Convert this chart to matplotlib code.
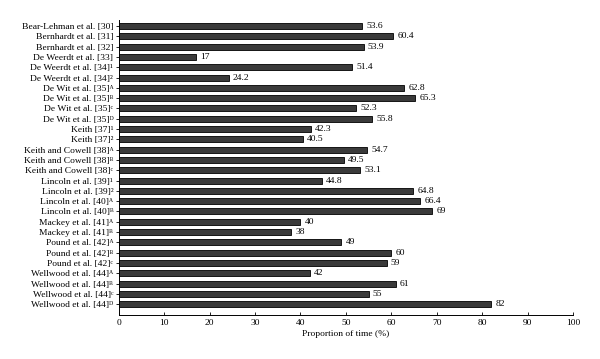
import matplotlib
matplotlib.use("Agg")
import matplotlib.pyplot as plt

plt.rcParams['font.family'] = ['Liberation Serif', 'DejaVu Serif', 'DejaVu Sans']

labels = [
    "Bear-Lehman et al. [30]", "Bernhardt et al. [31]", "Bernhardt et al. [32]",
    "De Weerdt et al. [33]", "De Weerdt et al. [34]\u00b9", "De Weerdt et al. [34]\u00b2",
    "De Wit et al. [35]\u1d2c", "De Wit et al. [35]\u1d2e",
    "De Wit et al. [35]\u1d9c", "De Wit et al. [35]\u1d30",
    "Keith [37]\u00b9", "Keith [37]\u00b2",
    "Keith and Cowell [38]\u1d2c", "Keith and Cowell [38]\u1d2e",
    "Keith and Cowell [38]\u1d9c",
    "Lincoln et al. [39]\u00b9", "Lincoln et al. [39]\u00b2",
    "Lincoln et al. [40]\u1d2c", "Lincoln et al. [40]\u1d2e",
    "Mackey et al. [41]\u1d2c", "Mackey et al. [41]\u1d2e",
    "Pound et al. [42]\u1d2c", "Pound et al. [42]\u1d2e",
    "Pound et al. [42]\u1d9c",
    "Wellwood et al. [44]\u1d2c", "Wellwood et al. [44]\u1d2e",
    "Wellwood et al. [44]\u1d9c", "Wellwood et al. [44]\u1d30",
]
values = [53.6, 60.4, 53.9, 17, 51.4, 24.2, 62.8, 65.3, 52.3, 55.8, 42.3, 40.5,
          54.7, 49.5, 53.1, 44.8, 64.8, 66.4, 69, 40, 38, 49, 60, 59, 42, 61, 55, 82]
value_labels = ["53.6", "60.4", "53.9", "17", "51.4", "24.2", "62.8", "65.3", "52.3",
                "55.8", "42.3", "40.5", "54.7", "49.5", "53.1", "44.8", "64.8", "66.4",
                "69", "40", "38", "49", "60", "59", "42", "61", "55", "82"]
xticks = list(range(0, 101, 10))

fig = plt.figure(figsize=(6.0, 3.59), dpi=100)
ax = fig.add_axes([0.198, 0.1226, 0.757, 0.822])
pos = list(range(len(values)))
ax.barh(pos, values, height=0.58, color='#3a3a3a', edgecolor='black', linewidth=0.6)
for p, v, t in zip(pos, values, value_labels):
    ax.text(v + 0.9, p, t, va='center', ha='left', fontsize=6.8)

ax.set_yticks(pos)
ax.set_yticklabels(labels, fontsize=6.8)
ax.set_ylim(28.05, -0.6)
ax.set_xlim(0, 100)
ax.set_xticks(xticks)
ax.set_xticklabels([str(x) for x in xticks], fontsize=6.8)
ax.set_xlabel("Proportion of time (%)", fontsize=6.8, labelpad=2)
for s in ['top', 'right']:
    ax.spines[s].set_visible(False)
for s in ['left', 'bottom']:
    ax.spines[s].set_linewidth(0.7)
ax.tick_params(axis='x', direction='in', length=2, width=0.6, pad=3)
ax.tick_params(axis='y', direction='out', length=2, width=0.6, pad=2)

fig.savefig("out.png", dpi=100)
